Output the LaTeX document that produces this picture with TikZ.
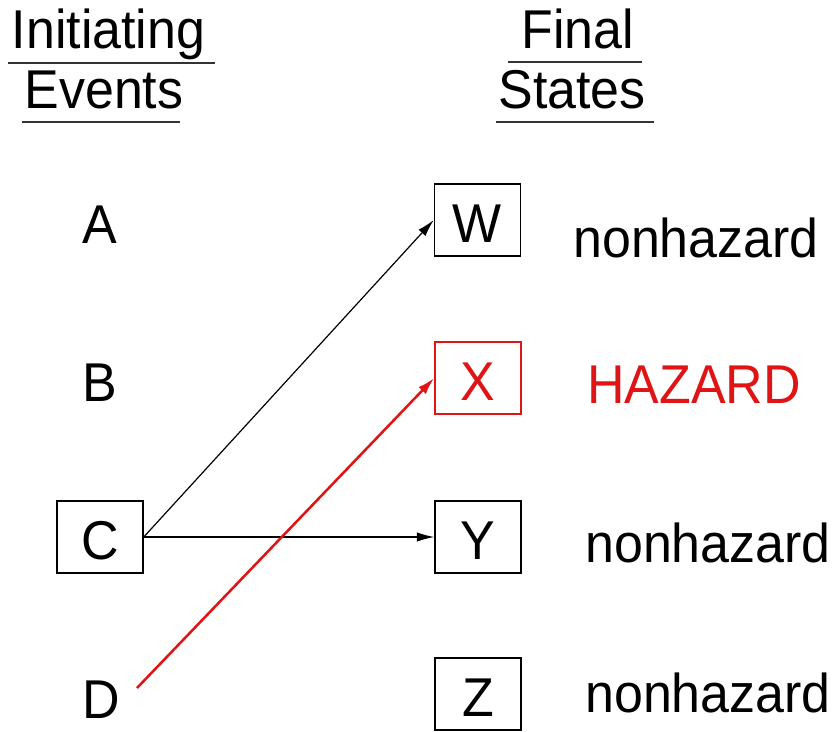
\documentclass[tikz,border=0pt]{standalone}
\usepackage{fontspec}
\setmainfont{Liberation Sans}[FakeStretch=0.95]
\usetikzlibrary{arrows.meta}
\definecolor{hazred}{RGB}{224,20,20}
\begin{document}
\begin{tikzpicture}[x=0.75pt,y=-0.75pt,
  every node/.style={font=\fontsize{41}{49}\selectfont, inner sep=0pt},
  statebox/.style={draw, line width=1.1pt, minimum width=64.5pt, minimum height=54pt, text height=33pt, text depth=0pt},
  lbl/.style={anchor=base west},
  head/.style={anchor=base},
  uline/.style={line width=1.5pt, draw=black!80},
  conn/.style={line width=0.9pt, -{Latex[length=13pt,width=7pt]}},
  hconn/.style={line width=1.9pt, draw=hazred, -{Latex[length=13pt,width=7.5pt]}}]
\useasboundingbox (0,0) rectangle (836,732);
% headers
\node[head] (hi) at (108.5,48) {Initiating};
\node[head] (he) at (104,108) {Events};
\node[head] (hf) at (578,48) {Final};
\node[head] (hs) at (572,108) {States};
\draw[uline] (8,63) -- (215,63);
\draw[uline] (22,122) -- (180,122);
\draw[uline] (508,62) -- (642,62);
\draw[uline] (496,122) -- (654,122);
% initiating events
\node (A) at (100,224.5) {A};
\node (B) at (100,383) {B};
\node[statebox] (C) at (100,537) {C};
\node (D) at (101.5,700) {D};
% final states
\node[statebox] (W) at (477.5,220) {W};
\node[statebox, draw=hazred, text=hazred] (X) at (478,378) {X};
\node[statebox] (Y) at (478,537) {Y};
\node[statebox] (Z) at (478,694) {Z};
% labels
\node[lbl] (lw) at (573,257) {nonhazard};
\node[lbl, text=hazred] (lx) at (587,403) {HAZARD};
\node[lbl] (ly) at (585,562) {nonhazard};
\node[lbl] (lz) at (585,712) {nonhazard};
% connectors
\draw[conn] (C.east) -- (W.west);
\draw[conn] (C.east) -- (Y.west);
\coordinate (d0) at (137,688);
\draw[hconn] (d0) -- (X.west);
\end{tikzpicture}
\end{document}
